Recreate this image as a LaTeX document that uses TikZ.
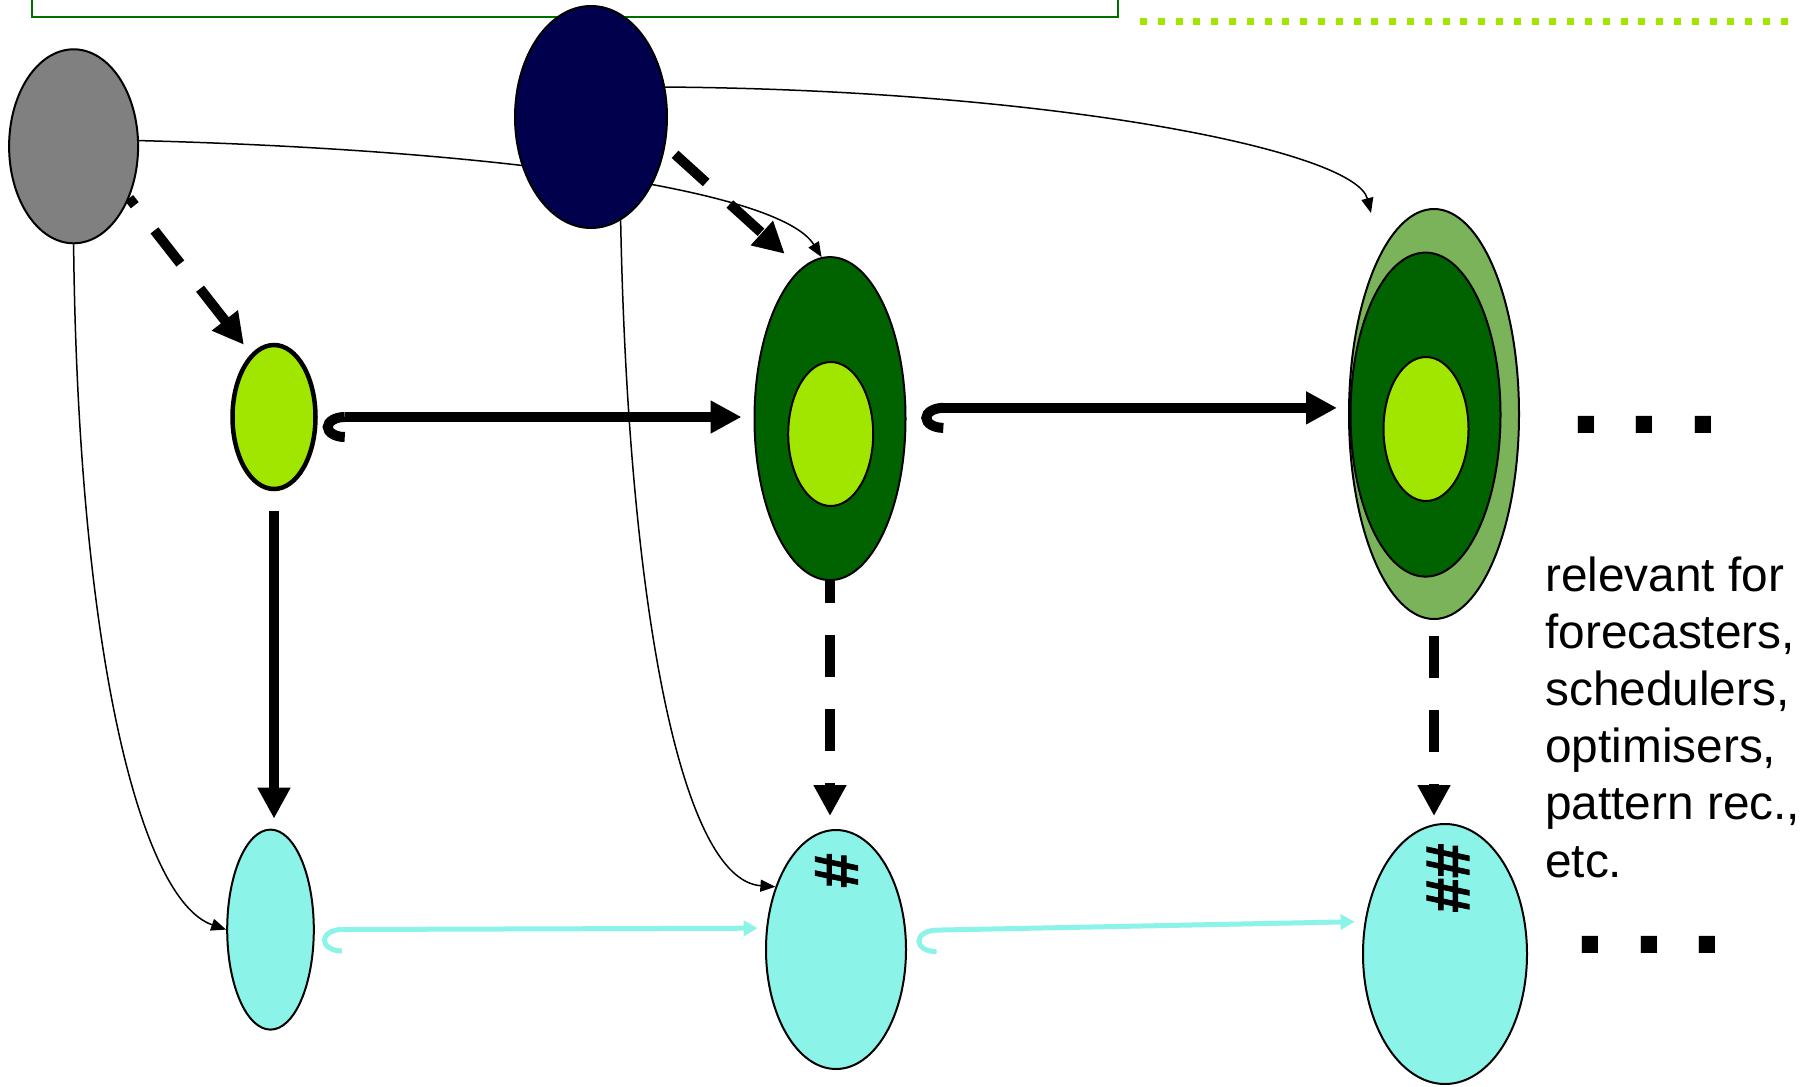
\documentclass[tikz,border=0pt]{standalone}
\usepackage{fontspec}
\setmainfont{Liberation Sans}
\newfontfamily\hashfont{Liberation Sans}[UprightFont={* Bold}, FakeBold=1.5]
\usetikzlibrary{shapes.geometric, arrows.meta, backgrounds}

\begin{document}
\begin{tikzpicture}[x=1pt, y=-1pt,
  blob/.style={ellipse, draw=black, line width=2pt, inner sep=0pt},
  thin link/.style={line width=1.5pt, -{Triangle[length=15pt, width=12pt]}},
  bold link/.style={line width=10pt, -{Triangle[length=31pt, width=31pt]}},
  dash link/.style={bold link, dash pattern=on 42pt off 32pt},
  hook link/.style={line width=10pt,
    {Hooks[left, width=50pt, length=22pt]}-{Triangle[length=31pt, width=31pt]}},
  aqua link/.style={line width=5pt, draw=aquablob,
    {Hooks[left, width=48pt, length=20pt]}-{Triangle[length=14pt, width=15pt]}},
  hash/.style={font=\hashfont\fontsize{62pt}{62pt}\selectfont, rotate=90, inner sep=0pt},
  trail/.style={font=\bfseries\fontsize{115pt}{115pt}\selectfont, inner sep=0pt, anchor=base west}]

\useasboundingbox (0,0) rectangle (1818,1087);

%─────────────
% Controls
%─────────────
\def\dotgap{26.5pt}  % gap between the dots of an ellipsis
\definecolor{greyblob}{RGB}{128,128,128}
\definecolor{navyblob}{RGB}{0,0,77}
\definecolor{limeblob}{RGB}{160,230,0}
\definecolor{forestblob}{RGB}{0,99,0}
\definecolor{mossblob}{RGB}{122,179,90}
\definecolor{aquablob}{RGB}{140,243,233}
\definecolor{framegreen}{RGB}{0,110,0}

%─────────────────────────────────────────────────────────────
% One filled ellipse: name, colour, x, y, width, height
%─────────────────────────────────────────────────────────────
\newcommand{\placeBlob}[6]{%
  \node[blob, fill=#2, minimum width=#5pt, minimum height=#6pt] (#1) at (#3,#4) {};
}

% Three dots trailing off to the right
\newcommand{\trailDots}[3]{%
  \node[trail] (#1) at (#2,#3) {.\hspace{\dotgap}.\hspace{\dotgap}.};
}

%─────────────
% Frame and dotted rule along the top edge
%─────────────
\draw[framegreen, line width=2pt] (32,-2) -- (32,17.3) -- (1117.7,17.3) -- (1117.7,-2);
\draw[limeblob, line width=7pt, dash pattern=on 7pt off 10.8pt] (1140,21.5) -- (1788,21.5);

%─────────────
% Sources
%─────────────
\placeBlob{src}{greyblob}{73.6}{146.3}{129}{194}
\placeBlob{ctl}{navyblob}{591}{117}{152}{222}

%─────────────
% Growing models
%─────────────
\node[blob, line width=4.5pt, fill=limeblob, minimum width=83pt, minimum height=144pt] (m1) at (274,417) {};
\placeBlob{m2}{forestblob}{830}{418.6}{151}{323}
\placeBlob{m2core}{limeblob}{830.7}{434}{85}{144}
\placeBlob{m3}{mossblob}{1434}{414}{170}{410}
\placeBlob{m3mid}{forestblob}{1425.5}{414.6}{150}{324}
\placeBlob{m3core}{limeblob}{1426}{429}{85}{144}

%─────────────
% Outputs
%─────────────
\placeBlob{o1}{aquablob}{270.5}{929.6}{86.6}{200}
\placeBlob{o2}{aquablob}{836}{949.5}{140}{239}
\placeBlob{o3}{aquablob}{1445}{954}{164}{260}
\node[hash] (h2) at (836.5,870.5) {\#};
\node[hash] (h3) at (1448,878) {\#\#};

%─────────────
% Connectors (behind the ellipses)
%─────────────
\begin{scope}[on background layer]
  % thin feeds from the sources
  \draw[thin link] (src.south) .. controls (78,650) and (140,900) .. (o1.west);
  \draw[thin link] (ctl.-74) .. controls (628,600) and (680,880) .. (o2.134);
  \draw[thin link] (src.5) .. controls (500,150) and (780,190) .. (m2.93);
  \coordinate (m3feed) at (1371,213);
  \draw[thin link] (ctl.22) .. controls (1050,90) and (1355,150) .. (m3feed);

  % dashed
  \draw[dash link, dash phase=33pt, shorten >=11.5pt] (src.-43) -- (m1.110);
  \draw[dash link, dash phase=61pt, shorten >=21.7pt] (ctl.-21) -- (m2.101);
  \draw[dash link, dash phase=20pt, shorten >=13pt] (m2.south) -- (m2.south |- o2.north);
  \draw[dash link, dash phase=58pt, shorten >=7pt] (m3.south) -- (m3.south |- o3.north);

  % solid
  \draw[bold link, shorten <=20pt, shorten >=10pt] (m1.south) -- (m1.south |- o1.north);
  \draw[hook link, shorten <=5pt, shorten >=12pt] (m1.east) -- (m1.east -| m2.west);
  \draw[hook link, shorten <=15pt, shorten >=11pt] (m2.8) -- (m2.8 -| m3.west);
  \draw[aqua link, shorten <=7pt, shorten >=8.5pt] (o1.east) -- (o2.163);
  \draw[aqua link, shorten <=10pt, shorten >=10pt] (o2.15) -- (o3.158);
\end{scope}

%─────────────
% Labels
%─────────────
\node[anchor=base west, align=left, inner sep=0pt, font=\fontsize{47.8pt}{57.2pt}\selectfont] (note) at (1545,877)
  {relevant for\\forecasters,\\schedulers,\\optimisers,\\pattern rec.,\\etc.};
\trailDots{more1}{1570.2}{433.5}
\trailDots{more2}{1574.6}{953}
\end{tikzpicture}
\end{document}
